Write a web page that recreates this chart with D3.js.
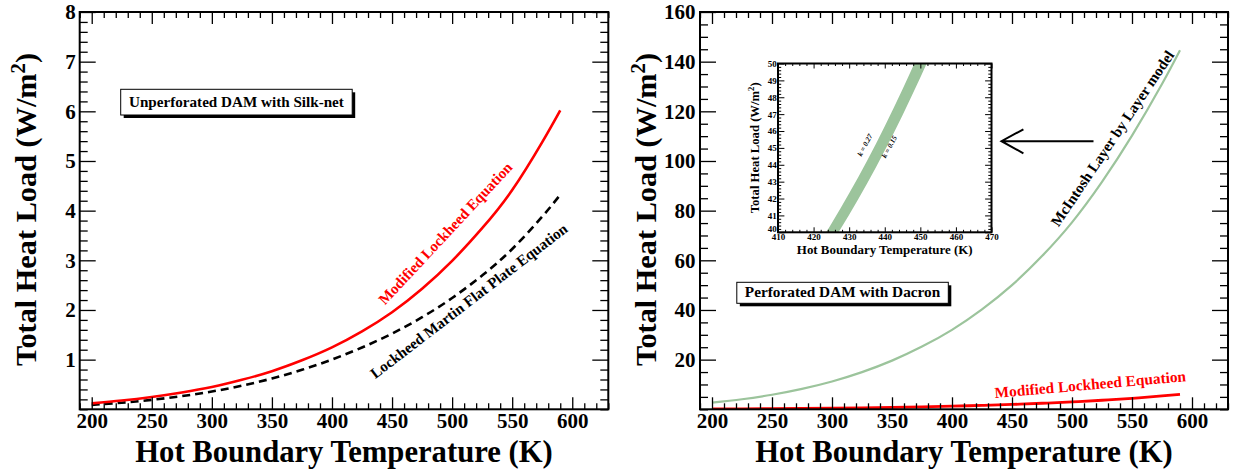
<!DOCTYPE html>
<html><head><meta charset="utf-8">
<script src="https://cdn.jsdelivr.net/npm/d3@7"></script>
<style>
body{margin:0;background:#fff;}
svg{display:block;}
text{font-family:"Liberation Serif","Times New Roman",serif;font-weight:bold;}
</style></head><body>
<svg id="c" width="1239" height="473"></svg>
<script>
// ---------------- data ----------------
const temps = [200,225,250,275,300,325,350,375,400,425,450,475,500,525,550,575,590];
const modifiedLockheed = [0.12,0.176,0.249,0.340,0.449,0.593,0.767,0.986,1.246,1.568,1.954,2.427,2.989,3.647,4.415,5.38,6.02];
const lockheedMartinFlatPlate = [0.09,0.133,0.1905,0.265,0.358,0.476,0.620,0.795,1.002,1.245,1.525,1.854,2.241,2.695,3.228,3.88,4.32];
const mcintoshLayerByLayer = [2.68,4.04,5.85,8.22,11.2,14.97,19.6,25.25,32.0,40.25,50.0,61.7,75.3,91.6,110.2,131.0,144.6];

const insetTemps = [415,420,425,430,435,440,445,450,455];
const insetK027 = [37.3,38.85,40.51,42.31,44.23,46.29,48.48,50.80,53.26];
const insetK015 = [36.3,37.77,39.34,41.04,42.87,44.84,46.94,49.17,51.53];

const xTickLabels = [200,250,300,350,400,450,500,550,600];
const leftYTickLabels = [1,2,3,4,5,6,7,8];
const rightYTickLabels = [20,40,60,80,100,120,140,160];
const insetXTickLabels = [410,420,430,440,450,460,470];
const insetYTickLabels = [40,41,42,43,44,45,46,47,48,49,50];

// ---------------- helpers ----------------
const svg = d3.select("#c");
const RED = "#ff0000", GREEN = "#9cc49c";

function fit(sel, target){
  const w = sel.node().getComputedTextLength();
  const fs = parseFloat(sel.attr("font-size"));
  sel.attr("font-size", (fs*target/w).toFixed(2));
  return sel;
}
function range(a,b,s){const r=[];for(let v=a;v<=b+1e-9;v+=s)r.push(+v.toFixed(6));return r;}
function without(arr, maj){return arr.filter(v=>!maj.some(m=>Math.abs(m-v)<1e-6));}

function drawTicks(g, x, y, box, spec){
  const {x0,x1,y0,y1} = box;
  const lenX = spec.lenX, lenY = spec.lenY;
  const xMaj = spec.xMaj, xMin = without(spec.xMin, xMaj);
  const yMaj = spec.yMaj, yMin = without(spec.yMin, yMaj);
  const sw = spec.sw;
  const mk = (axisFn, scale, vals, len, tr) => {
    const a = g.append("g").attr("transform", tr)
      .call(axisFn(scale).tickValues(vals).tickSize(-len).tickFormat(""));
    a.select(".domain").remove();
    a.selectAll("line").attr("stroke","#000").attr("stroke-width",sw);
  };
  mk(d3.axisBottom, x, xMaj, lenX, `translate(0,${y1})`);
  mk(d3.axisBottom, x, xMin, lenX/2, `translate(0,${y1})`);
  mk(d3.axisTop, x, xMaj, lenX, `translate(0,${y0})`);
  mk(d3.axisTop, x, xMin, lenX/2, `translate(0,${y0})`);
  mk(d3.axisLeft, y, yMaj, lenY, `translate(${x0},0)`);
  mk(d3.axisLeft, y, yMin, lenY/2, `translate(${x0},0)`);
  mk(d3.axisRight, y, yMaj, lenY, `translate(${x1},0)`);
  mk(d3.axisRight, y, yMin, lenY/2, `translate(${x1},0)`);
}

function labels(g, x, y, box, spec){
  const {x0,y1} = box;
  const bx = g.append("g").attr("transform",`translate(0,${y1})`)
    .call(d3.axisBottom(x).tickValues(spec.xLabels).tickSize(0).tickPadding(spec.padX).tickFormat(d3.format("d")));
  bx.select(".domain").remove();
  bx.selectAll("text").attr("font-size",spec.fs).attr("fill","#000")
    .style("font-family",'"Liberation Serif","Times New Roman",serif').style("font-weight","bold");
  const ly = g.append("g").attr("transform",`translate(${x0},0)`)
    .call(d3.axisLeft(y).tickValues(spec.yLabels).tickSize(0).tickPadding(spec.padY).tickFormat(d3.format("d")));
  ly.select(".domain").remove();
  ly.selectAll("text").attr("font-size",spec.fs).attr("fill","#000")
    .style("font-family",'"Liberation Serif","Times New Roman",serif').style("font-weight","bold");
  return {bx, ly};
}

function yTitle(g, xb, yc, fs, target){
  const t = g.append("text").attr("transform",`translate(${xb},${yc}) rotate(-90)`)
    .attr("text-anchor","middle").attr("font-size",fs).attr("fill","#000");
  t.append("tspan").text("Total Heat Load (W/m");
  t.append("tspan").attr("font-size","0.68em").attr("dy","-0.55em").text("2");
  t.append("tspan").attr("dy","0.375em").text(")");
  fit(t, target);
  return t;
}
function xTitle(g, xc, yb, fs, target, txt){
  const t = g.append("text").attr("x",xc).attr("y",yb).attr("text-anchor","middle")
    .attr("font-size",fs).attr("fill","#000").text(txt);
  fit(t, target);
  return t;
}
function note(g, cx, cy, ang, txt, target, color, extra){
  const t = g.append("text").attr("transform",`translate(${cx},${cy}) rotate(${-ang})`)
    .attr("text-anchor","middle").attr("dy","0.33em").attr("font-size",15).attr("fill",color).text(txt);
  if(extra) extra(t);
  fit(t, target);
  return t;
}
function pave(g, bx, txt, target, baseline){
  g.append("rect").attr("x",bx.x+3).attr("y",bx.y+3).attr("width",bx.w).attr("height",bx.h).attr("fill","#000");
  g.append("rect").attr("x",bx.x).attr("y",bx.y).attr("width",bx.w).attr("height",bx.h)
    .attr("fill","#fff").attr("stroke","#000").attr("stroke-width",1);
  const t = g.append("text").attr("x",bx.x+bx.w/2).attr("y",baseline).attr("text-anchor","middle")
    .attr("font-size",15).attr("fill","#000").text(txt);
  fit(t, target);
}

// ---------------- panels ----------------
function panel(box, yDomain, id){
  const x = d3.scaleLinear().domain([190,630]).range([box.x0, box.x1]);
  const y = d3.scaleLinear().domain(yDomain).range([box.y1, box.y0]);
  const g = svg.append("g");
  g.append("clipPath").attr("id",id).append("rect")
    .attr("x",box.x0).attr("y",box.y0).attr("width",box.x1-box.x0).attr("height",box.y1-box.y0);
  return {g,x,y};
}
const line = (x,y) => d3.line().x(d=>x(d[0])).y(d=>y(d[1])).curve(d3.curveNatural);

// Left panel
const LB = {x0:79.7, x1:608.3, y0:12, y1:409.3};
const L = panel(LB, [0,8], "clipL");

L.g.append("path").datum(d3.zip(temps, lockheedMartinFlatPlate)).attr("clip-path","url(#clipL)")
  .attr("d", line(L.x,L.y)).attr("fill","none").attr("stroke","#000").attr("stroke-width",2.6)
  .attr("stroke-dasharray","8,5");
L.g.append("path").datum(d3.zip(temps, modifiedLockheed)).attr("clip-path","url(#clipL)")
  .attr("d", line(L.x,L.y)).attr("fill","none").attr("stroke",RED).attr("stroke-width",2.6);

drawTicks(L.g, L.x, L.y, LB, {lenX:12, lenY:16, sw:1.3,
  xMaj:range(200,600,50), xMin:range(190,630,10), yMaj:range(1,8,1), yMin:range(0,8,0.2)});
labels(L.g, L.x, L.y, LB, {xLabels:xTickLabels, yLabels:leftYTickLabels, fs:21, padX:4, padY:4});
L.g.append("rect").attr("x",LB.x0).attr("y",LB.y0).attr("width",LB.x1-LB.x0).attr("height",LB.y1-LB.y0)
  .attr("fill","none").attr("stroke","#000").attr("stroke-width",2);
xTitle(L.g, (LB.x0+LB.x1)/2, 461.5, 30, 417.7, "Hot Boundary Temperature (K)");
yTitle(L.g, 36, 209.5, 30, 313);
pave(L.g, {x:120.7, y:89.3, w:231.5, h:25.7}, "Unperforated DAM with Silk-net", 215, 107.3);
note(L.g, 445.5, 233.5, 47, "Modified Lockheed Equation", 188, RED);
note(L.g, 469, 301, 37.5, "Lockheed Martin Flat Plate Equation", 244, "#000");

// Right panel
const RB = {x0:700, x1:1228, y0:12, y1:409.3};
const R = panel(RB, [0,160], "clipR");
R.g.append("path").datum(d3.zip(temps, mcintoshLayerByLayer)).attr("clip-path","url(#clipR)")
  .attr("d", line(R.x,R.y)).attr("fill","none").attr("stroke",GREEN).attr("stroke-width",2.2);
R.g.append("path").datum(d3.zip(temps, modifiedLockheed)).attr("clip-path","url(#clipR)")
  .attr("d", line(R.x,R.y)).attr("fill","none").attr("stroke",RED).attr("stroke-width",2.8);

drawTicks(R.g, R.x, R.y, RB, {lenX:12, lenY:16, sw:1.3,
  xMaj:range(200,600,50), xMin:range(190,630,10), yMaj:range(20,160,20), yMin:range(0,160,5)});
labels(R.g, R.x, R.y, RB, {xLabels:xTickLabels, yLabels:rightYTickLabels, fs:21, padX:4, padY:4.5});
R.g.append("rect").attr("x",RB.x0).attr("y",RB.y0).attr("width",RB.x1-RB.x0).attr("height",RB.y1-RB.y0)
  .attr("fill","none").attr("stroke","#000").attr("stroke-width",2);
xTitle(R.g, (RB.x0+RB.x1)/2, 461.5, 30, 417.7, "Hot Boundary Temperature (K)");
yTitle(R.g, 656, 209.5, 30, 313);
pave(R.g, {x:736.8, y:282.3, w:211.5, h:21}, "Perforated DAM with Dacron", 195.5, 296.8);
note(R.g, 1112.5, 138.5, 56, "McIntosh Layer by Layer model", 208, "#000");
note(R.g, 1090.3, 384.5, 5, "Modified Lockheed Equation", 192, RED);

// arrow
const arrow = d3.path();
arrow.moveTo(1093.5,141.2); arrow.lineTo(1001.5,141.2);
arrow.moveTo(1023.4,129.3); arrow.lineTo(1001.5,141.2); arrow.lineTo(1023.4,153.3);
R.g.append("path").attr("d",arrow.toString()).attr("fill","none").attr("stroke","#000").attr("stroke-width",2);

// Inset
const IB = {x0:778, x1:991.5, y0:63.5, y1:232.3};
const ix = d3.scaleLinear().domain([410,470]).range([IB.x0, IB.x1]);
const iy = d3.scaleLinear().domain([40,50]).range([IB.y1, IB.y0]);
const I = svg.append("g");
I.append("rect").attr("x",IB.x0).attr("y",IB.y0).attr("width",IB.x1-IB.x0).attr("height",IB.y1-IB.y0).attr("fill","#fff");
I.append("clipPath").attr("id","clipI").append("rect")
  .attr("x",IB.x0).attr("y",IB.y0).attr("width",IB.x1-IB.x0).attr("height",IB.y1-IB.y0);
const band = d3.area().x(d=>ix(d[0])).y0(d=>iy(d[2])).y1(d=>iy(d[1])).curve(d3.curveNatural);
I.append("path").datum(d3.zip(insetTemps, insetK027, insetK015)).attr("clip-path","url(#clipI)")
  .attr("d", band).attr("fill", GREEN).attr("stroke","none");
drawTicks(I, ix, iy, IB, {lenX:5, lenY:6.4, sw:1,
  xMaj:range(410,470,10), xMin:range(410,470,2), yMaj:range(40,50,1), yMin:range(40,50,0.2)});
const il = labels(I, ix, iy, IB, {xLabels:insetXTickLabels, yLabels:insetYTickLabels, fs:9, padX:1.5, padY:1.2});
il.ly.selectAll("text").filter(d=>d===40).attr("dy","-0.05em");
I.append("rect").attr("x",IB.x0).attr("y",IB.y0).attr("width",IB.x1-IB.x0).attr("height",IB.y1-IB.y0)
  .attr("fill","none").attr("stroke","#000").attr("stroke-width",2);
xTitle(I, (IB.x0+IB.x1)/2, 254.3, 12, 176, "Hot Boundary Temperature (K)");
yTitle(I, 758.5, 147.8, 12, 131);
const italic = t => t.style("font-style","italic");
note(I, ix(434.45), iy(45.17), 62, "k = 0.27", 24, "#000", italic);
note(I, ix(441.3), iy(45.07), 62, "k = 0.15", 24, "#000", italic);
</script>
</body></html>
